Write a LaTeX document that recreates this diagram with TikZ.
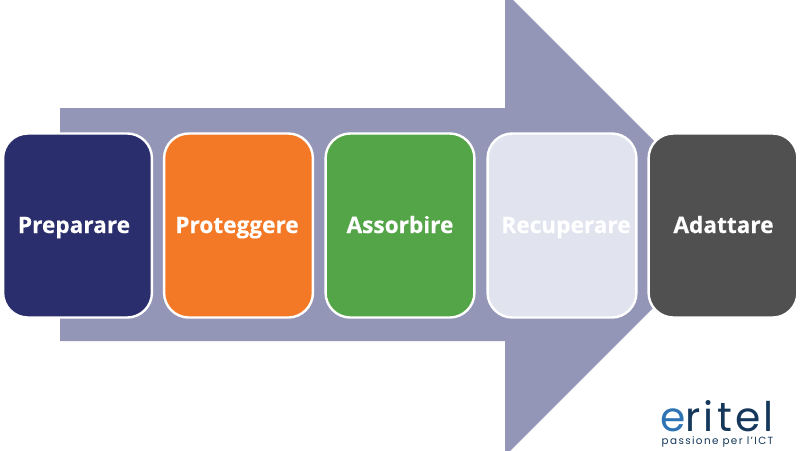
\documentclass[tikz,border=0pt]{standalone}
\usepackage{fontspec}
\setmainfont[BoldFeatures={FakeBold=0.3}]{Open Sans}
\newfontfamily\logofont[LetterSpace=8]{Poppins}
\newfontfamily\mottofont[LetterSpace=13]{Poppins}
\definecolor{arrowcol}{HTML}{9496B8}
\definecolor{navycol}{HTML}{2A2E6C}
\definecolor{orangecol}{HTML}{F47926}
\definecolor{greencol}{HTML}{54A547}
\definecolor{palecol}{HTML}{E1E3EF}
\definecolor{darkcol}{HTML}{505050}
\definecolor{logoblue}{HTML}{2E74B5}
\definecolor{logonavy}{HTML}{14375A}
\tikzset{
	stage/.style={draw=white, line width=0.06cm, rounded corners=0.62cm, minimum width=3.72cm, minimum height=4.6cm, inner sep=0pt},
	stagetext/.style={anchor=base, inner sep=0pt, text=white, font=\bfseries\fontsize{16.1}{18}\selectfont},
}
\begin{document}
\begin{tikzpicture}[x=0.025cm, y=-0.025cm]
	\clip (0,0) rectangle (800,450);
	\fill[arrowcol] (60,108) -- (505,108) -- (505,-8) -- (737,224) -- (505,456) -- (505,341) -- (60,341) -- cycle;
	\node (preparare) at (77.5,225.5) [stage, fill=navycol] {};
	\node (proteggere) at (238.5,225.5) [stage, fill=orangecol] {};
	\node (assorbire) at (400,225.5) [stage, fill=greencol] {};
	\node (recuperare) at (562,225.5) [stage, fill=palecol] {};
	\node (adattare) at (723,225.5) [stage, fill=darkcol] {};
	\node (preparare text) at (74,233) [stagetext] {Preparare};
	\node (proteggere text) at (237,233) [stagetext] {Proteggere};
	\node (assorbire text) at (400,233) [stagetext] {Assorbire};
	\node (recuperare text) at (566,233) [stagetext] {Recuperare};
	\node (adattare text) at (723.5,233) [stagetext] {Adattare};
	\node (logo) at (717,431) [anchor=base, inner sep=0pt, text=logonavy, font=\logofont\fontsize{29}{30}\selectfont] {{\color{logoblue}e}ritel};
	\node (motto) at (717.5,444) [anchor=base, inner sep=0pt, text=logonavy, font=\mottofont\fontsize{7.4}{9}\selectfont] {passione per l’ICT};
\end{tikzpicture}
\end{document}
